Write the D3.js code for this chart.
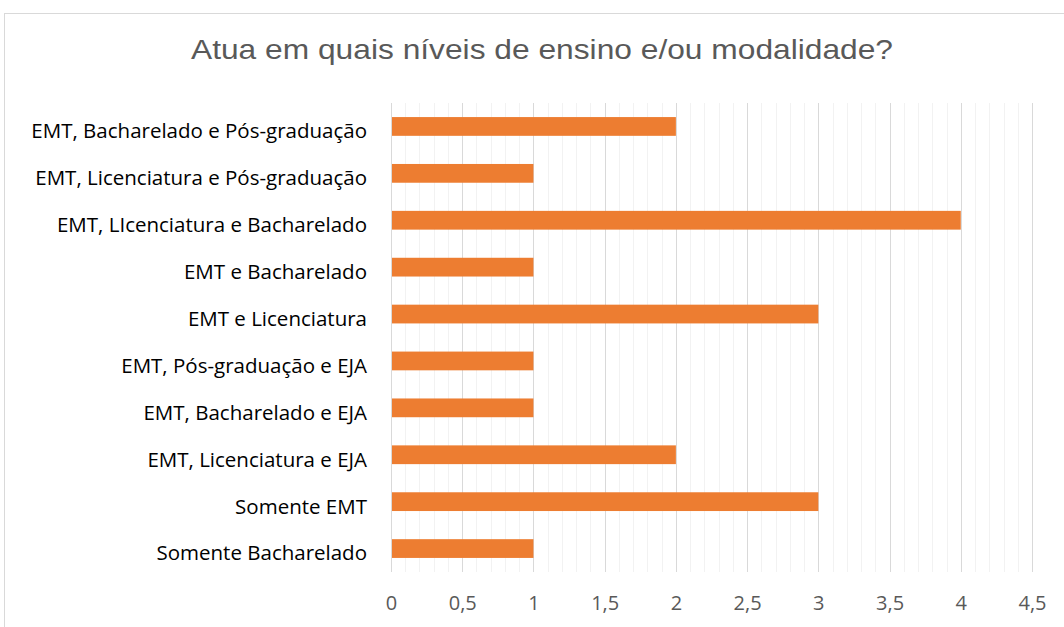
<!DOCTYPE html>
<html><head><meta charset="utf-8">
<script src="https://cdn.jsdelivr.net/npm/d3@7"></script>
<style>body{margin:0;background:#fff;} svg{display:block;}</style>
</head><body>
<svg id="c" width="1064" height="627"></svg>
<script>
const title = "Atua em quais níveis de ensino e/ou modalidade?";
const categories = [
  "EMT, Bacharelado e Pós-graduação",
  "EMT, Licenciatura e Pós-graduação",
  "EMT, LIcenciatura e Bacharelado",
  "EMT e Bacharelado",
  "EMT e Licenciatura",
  "EMT, Pós-graduação e EJA",
  "EMT, Bacharelado e EJA",
  "EMT, Licenciatura e EJA",
  "Somente EMT",
  "Somente Bacharelado"
];
const values = [2, 1, 4, 1, 3, 1, 1, 2, 3, 1];
const majorTicks = [0, 0.5, 1, 1.5, 2, 2.5, 3, 3.5, 4, 4.5];
const minorTicks = d3.range(0, 46).map(i => i / 10);

(function () {
const svg = d3.select("#c");
const pl = 391, pr = 1032, pt = 103, pb = 572;

// frame
svg.append("rect").attr("x", 4.5).attr("y", 13.5).attr("width", 1070).attr("height", 640)
  .attr("fill", "#fff").attr("stroke", "#d9d9d9").attr("stroke-width", 1);

const x = d3.scaleLinear().domain([0, 4.5]).range([pl, pr]);
const y = d3.scaleBand().domain(categories).range([pt, pb]).paddingInner(0.6).paddingOuter(0.3);

// minor grid
svg.append("g").selectAll("line").data(minorTicks.filter(t => Math.abs(t * 2 - Math.round(t * 2)) > 1e-6))
  .join("line")
  .attr("x1", d => Math.round(x(d)) + 0.5).attr("x2", d => Math.round(x(d)) + 0.5)
  .attr("y1", pt).attr("y2", pb)
  .attr("stroke", "#f2f2f2").attr("stroke-width", 1);
// major grid
svg.append("g").selectAll("line").data(majorTicks)
  .join("line")
  .attr("x1", d => Math.round(x(d)) + 0.5).attr("x2", d => Math.round(x(d)) + 0.5)
  .attr("y1", pt).attr("y2", pb)
  .attr("stroke", "#d9d9d9").attr("stroke-width", 1);

// bars
svg.append("g").selectAll("rect").data(values)
  .join("rect")
  .attr("x", x(0) + 1)
  .attr("y", (d, i) => y(categories[i]))
  .attr("width", d => x(d) - x(0) - 1)
  .attr("height", y.bandwidth())
  .attr("fill", "#ed7d31");

// x axis labels
const xa = svg.append("g").attr("transform", `translate(0,${pb})`)
  .call(d3.axisBottom(x).tickValues(majorTicks).tickSize(0).tickPadding(23.5)
    .tickFormat(d => String(d).replace(".", ",")));
xa.select(".domain").remove();
xa.selectAll("text").attr("fill", "#595959").style("font-family", "'Open Sans', sans-serif").style("font-size", "20px");

// y axis labels
const ya = svg.append("g").attr("transform", `translate(${pl},0)`)
  .call(d3.axisLeft(y).tickSize(0).tickPadding(24));
ya.select(".domain").remove();
ya.selectAll("text").attr("fill", "#000").attr("dy", "0.58em")
  .style("font-family", "'Open Sans', sans-serif").style("font-size", "20.5px");

// title
svg.append("text").attr("x", 542).attr("y", 59).attr("text-anchor", "middle")
  .attr("fill", "#595959").style("font-family", "'Liberation Sans', Arial, sans-serif").style("font-size", "27.5px")
  .attr("textLength", 702).attr("lengthAdjust", "spacingAndGlyphs")
  .text(title);
})();
</script>
</body></html>
